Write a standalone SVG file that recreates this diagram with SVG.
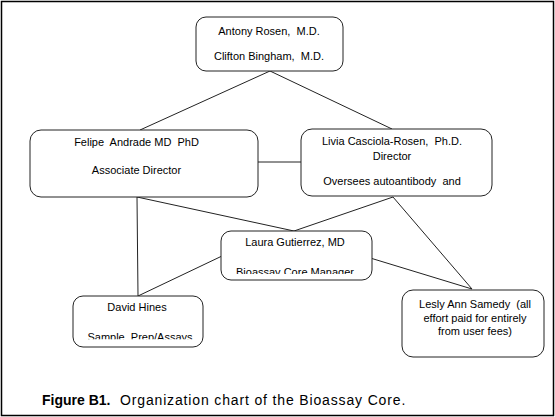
<svg xmlns="http://www.w3.org/2000/svg" width="555" height="417" viewBox="0 0 555 417">
<style>
.box{fill:#fff;stroke:#222;stroke-width:1}
.t{font-family:"Liberation Sans",Arial,sans-serif;font-size:11px;fill:#000;text-anchor:middle;white-space:pre}
.c line{stroke:#222;stroke-width:1}
.cap{font-family:"Liberation Sans",Arial,sans-serif;font-size:14px;fill:#000;white-space:pre}
</style>
<defs>
<clipPath id="clipLaura"><rect x="221" y="231" width="151" height="43"/></clipPath>
<clipPath id="clipDavid"><rect x="73" y="296" width="130" height="43.3"/></clipPath>
</defs>
<rect x="1.5" y="1.5" width="552" height="414" fill="#fff" stroke="#000" stroke-width="1.5"/>
<g class="c" id="connectors">
<line x1="270" y1="71" x2="140" y2="130"/>
<line x1="270" y1="71" x2="392" y2="129"/>
<line x1="258" y1="162" x2="301" y2="162"/>
<line x1="137" y1="197" x2="294" y2="231"/>
<line x1="393" y1="197" x2="294" y2="231"/>
<line x1="137" y1="197" x2="138" y2="296"/>
<line x1="222" y1="256" x2="138" y2="296"/>
<line x1="393" y1="197" x2="472" y2="289"/>
<line x1="367" y1="257" x2="472" y2="289"/>
</g>
<g id="node-top">
<rect class="box" x="196" y="17" width="147" height="54" rx="10"/>
<text class="t" x="269" y="35">Antony Rosen,  M.D.</text>
<text class="t" x="269" y="60">Clifton Bingham,  M.D.</text>
</g>
<g id="node-felipe">
<rect class="box" x="30" y="130" width="228" height="67" rx="11"/>
<text class="t" x="136.5" y="146">Felipe  Andrade MD  PhD</text>
<text class="t" x="136.5" y="174">Associate Director</text>
</g>
<g id="node-livia">
<rect class="box" x="301" y="129" width="191" height="67" rx="11"/>
<text class="t" x="392" y="145">Livia Casciola-Rosen,  Ph.D.</text>
<text class="t" x="392" y="160">Director</text>
<text class="t" x="392" y="184.5">Oversees autoantibody  and</text>
</g>
<g id="node-laura">
<rect class="box" x="221" y="231" width="151" height="49" rx="10"/>
<text class="t" x="295" y="246">Laura Gutierrez, MD</text>
<text class="t" x="295" y="275.5" clip-path="url(#clipLaura)">Bioassay Core Manager</text>
</g>
<g id="node-david">
<rect class="box" x="73" y="296" width="130" height="51" rx="10"/>
<text class="t" x="137" y="311">David Hines</text>
<text class="t" x="140" y="341" clip-path="url(#clipDavid)">Sample  Prep/Assays</text>
</g>
<g id="node-lesly">
<rect class="box" x="402" y="290" width="142" height="67" rx="11"/>
<text class="t" x="475" y="308">Lesly Ann Samedy  (all</text>
<text class="t" x="475" y="321.5">effort paid for entirely</text>
<text class="t" x="475" y="335">from user fees)</text>
</g>
<text class="cap" y="405"><tspan x="42" font-weight="bold">Figure B1.</tspan><tspan x="120" letter-spacing="0.85">Organization chart of the Bioassay Core.</tspan></text>
</svg>
